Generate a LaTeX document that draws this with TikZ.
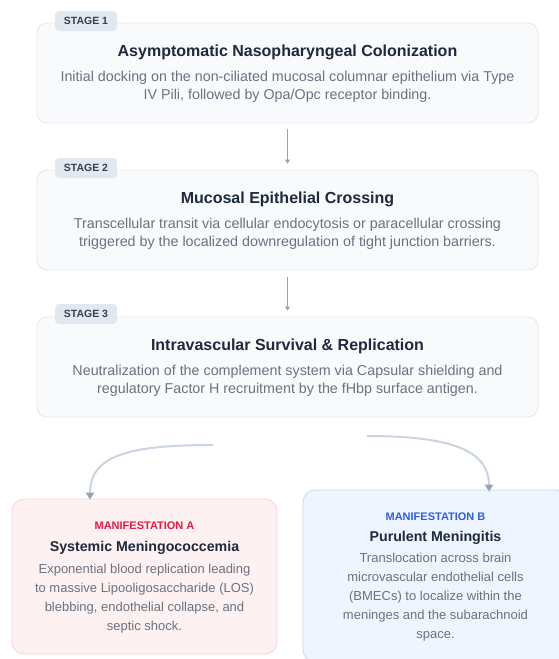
\documentclass[tikz,border=0pt]{standalone}
\usepackage{fontspec}
\setmainfont{Liberation Sans}
\usetikzlibrary{arrows.meta}
\definecolor{boxfill}{HTML}{F8FAFC}
\definecolor{boxline}{HTML}{E2E8F0}
\definecolor{tagfill}{HTML}{E2E8F0}
\definecolor{tagtext}{HTML}{334155}
\definecolor{titletext}{HTML}{1E293B}
\definecolor{desctext}{HTML}{6B7280}
\definecolor{arrowcol}{HTML}{94A3B8}
\definecolor{curvecol}{HTML}{CBD5E1}
\definecolor{afill}{HTML}{FEF1F2}
\definecolor{aline}{HTML}{FBD0D6}
\definecolor{alabel}{HTML}{E11D48}
\definecolor{bfill}{HTML}{EEF5FF}
\definecolor{bline}{HTML}{C3DAFB}
\definecolor{blabel}{HTML}{2F5FE0}
\tikzset{
  stagebox/.style={draw=boxline, fill=boxfill, line width=0.8pt, rounded corners=10pt, minimum width=501pt, minimum height=100pt, inner sep=0pt},
  stagetag/.style={fill=tagfill, rounded corners=4pt, minimum width=62pt, minimum height=20pt, inner sep=0pt, text=tagtext, font=\fontsize{10.5}{12}\selectfont\bfseries},
  stagetitle/.style={text=titletext, font=\fontsize{16}{19}\selectfont\bfseries, inner sep=0pt},
  stagedesc/.style={text=desctext, font=\fontsize{14.3}{18.5}\selectfont, align=center, inner sep=0pt},
  flowarrow/.style={draw=arrowcol, line width=0.9pt, -{Triangle[width=5pt,length=4pt]}},
  curvearrow/.style={draw=curvecol, line width=2pt, -{Triangle[width=8pt,length=7pt,color=arrowcol,fill=arrowcol]}},
  manifbox/.style={rounded corners=12pt, line width=0.8pt, minimum width=265pt, inner sep=0pt},
  maniflabel/.style={font=\fontsize{11}{12}\selectfont\bfseries, inner sep=0pt},
  maniftitle/.style={text=titletext, font=\fontsize{14.2}{18}\selectfont\bfseries, inner sep=0pt},
  manifdesc/.style={text=desctext, font=\fontsize{13}{19}\selectfont, align=center, inner sep=0pt}
}
\begin{document}
\begin{tikzpicture}[x=1pt,y=-1pt]
\useasboundingbox[fill=white] (0,0) rectangle (558,659);
% Stage 1
\node[stagebox] (s1) at (287.5,73) {};
\node[stagetag] (t1) at (86,21) {STAGE 1};
\node[stagetitle] (h1) at (287.5,52) {Asymptomatic Nasopharyngeal Colonization};
\node[stagedesc] (d1) at (287.5,87) {Initial docking on the non-ciliated mucosal columnar epithelium via Type\\IV Pili, followed by Opa/Opc receptor binding.};
% Stage 2
\node[stagebox] (s2) at (287.5,220) {};
\node[stagetag] (t2) at (86,168) {STAGE 2};
\node[stagetitle] (h2) at (287.5,199) {Mucosal Epithelial Crossing};
\node[stagedesc] (d2) at (287.5,234) {Transcellular transit via cellular endocytosis or paracellular crossing\\triggered by the localized downregulation of tight junction barriers.};
% Stage 3
\node[stagebox] (s3) at (287.5,367) {};
\node[stagetag] (t3) at (86,314) {STAGE 3};
\node[stagetitle] (h3) at (287.5,346) {Intravascular Survival \& Replication};
\node[stagedesc] (d3) at (287.5,381) {Neutralization of the complement system via Capsular shielding and\\regulatory Factor H recruitment by the fHbp surface antigen.};
% flow arrows
\draw[flowarrow] ([yshift=-6pt]s1.south) -- ([yshift=6pt]s2.north);
\draw[flowarrow] ([yshift=-7pt]s2.south) -- ([yshift=6pt]s3.north);
% Manifestation A
\node[manifbox, draw=aline, fill=afill, minimum height=155pt] (ma) at (144.5,576.5) {};
\node[maniflabel, text=alabel] (la) at (144.5,526) {MANIFESTATION A};
\node[maniftitle] (ta) at (144.5,548) {Systemic Meningococcemia};
\node[manifdesc] (da) at (144.5,598.5) {Exponential blood replication leading\\to massive Lipooligosaccharide (LOS)\\blebbing, endothelial collapse, and\\septic shock.};
% Manifestation B
\node[manifbox, draw=bline, fill=bfill, minimum height=172pt] (mb) at (435.5,576) {};
\node[maniflabel, text=blabel] (lb) at (435.5,517) {MANIFESTATION B};
\node[maniftitle] (tb) at (435.5,538) {Purulent Meningitis};
\node[manifdesc] (db) at (435.5,597.5) {Translocation across brain\\microvascular endothelial cells\\(BMECs) to localize within the\\meninges and the subarachnoid\\space.};
% curved arrows
\coordinate (ca) at (213,445);
\coordinate (cb) at (367,436);
\draw[curvearrow] (ca) .. controls (130,445) and (90,455) .. ([xshift=-54.5pt,yshift=-1pt]ma.north);
\draw[curvearrow] (cb) .. controls (450,436) and (489,450) .. ([xshift=53.5pt,yshift=-2pt]mb.north);
\end{tikzpicture}
\end{document}
